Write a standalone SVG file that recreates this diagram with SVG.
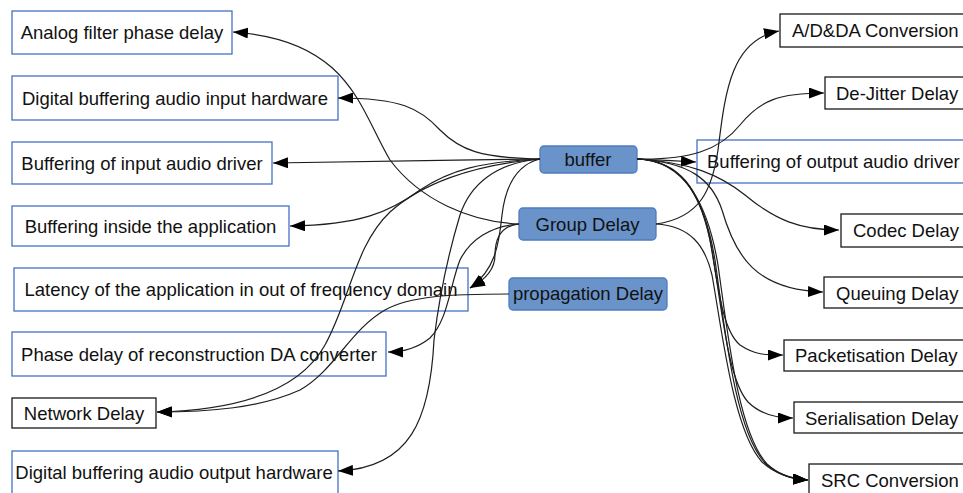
<svg xmlns="http://www.w3.org/2000/svg" width="963" height="493" viewBox="0 0 963 493">
<defs>
<style>
.lb{fill:#ffffff;stroke:#4472c4;stroke-width:1.3}
.bk{fill:#ffffff;stroke:#1a1a1a;stroke-width:1.3}
.hub{fill:#6a94c9;stroke:#4d7bbf;stroke-width:1.3}
text{font-family:"Liberation Sans",Arial,sans-serif;font-size:18.5px;fill:#111111}
.c{text-anchor:middle}
.e{fill:none;stroke:#1e1e1e;stroke-width:1.2;marker-end:url(#ah)}
.p{fill:none;stroke:#1e1e1e;stroke-width:1.2}
</style>
<marker id="ah" markerUnits="userSpaceOnUse" markerWidth="15" markerHeight="11" refX="15" refY="5.5" orient="auto" viewBox="0 0 15 11">
<path d="M0,0 L15,5.5 L0,11 z" fill="#000000"/>
</marker>
</defs>

<g id="n-analog"><rect class="lb" x="12" y="11" width="220" height="43"/><text class="c" x="122" y="39">Analog filter phase delay</text></g>
<g id="n-dig-in"><rect class="lb" x="12" y="76" width="326" height="44"/><text class="c" x="175" y="104.5">Digital buffering audio input hardware</text></g>
<g id="n-in-driver"><rect class="lb" x="12" y="142" width="260" height="42"/><text class="c" x="142" y="169.5">Buffering of input audio driver</text></g>
<g id="n-inside-app"><rect class="lb" x="12" y="206" width="277" height="40"/><text class="c" x="150.5" y="232.5">Buffering inside the application</text></g>
<g id="n-latency"><rect class="lb" x="14" y="268" width="454" height="43"/><text class="c" x="241" y="296">Latency of the application in out of frequency domain</text></g>
<g id="n-phase"><rect class="lb" x="12" y="332" width="374" height="44"/><text class="c" x="199" y="360.5">Phase delay of reconstruction DA converter</text></g>
<g id="n-network"><rect class="bk" x="12" y="398" width="144" height="30"/><text class="c" x="84" y="419.5">Network Delay</text></g>
<g id="n-dig-out"><rect class="lb" x="12" y="451" width="326" height="46"/><text class="c" x="174" y="479">Digital buffering audio output hardware</text></g>

<g id="n-adda"><rect class="bk" x="780" y="14" width="195" height="33"/><text x="792" y="37">A/D&amp;DA Conversion</text></g>
<g id="n-dejitter"><rect class="bk" x="825" y="77" width="150" height="32"/><text x="836" y="100">De-Jitter Delay</text></g>
<g id="n-out-driver"><rect class="lb" x="697" y="140" width="280" height="43"/><text x="707" y="168">Buffering of output audio driver</text></g>
<g id="n-codec"><rect class="bk" x="841" y="214" width="135" height="33"/><text x="853" y="237">Codec Delay</text></g>
<g id="n-queuing"><rect class="bk" x="824" y="277" width="150" height="31"/><text x="836" y="299.5">Queuing Delay</text></g>
<g id="n-packet"><rect class="bk" x="784" y="340" width="190" height="31"/><text x="795" y="362">Packetisation Delay</text></g>
<g id="n-serial"><rect class="bk" x="794" y="402" width="180" height="31"/><text x="805" y="425">Serialisation Delay</text></g>
<g id="n-src"><rect class="bk" x="809" y="464" width="170" height="35"/><text x="821" y="487">SRC Conversion</text></g>

<g id="n-buffer"><rect class="hub" x="540" y="146" width="97" height="27" rx="4"/><text class="c" x="588" y="166">buffer</text></g>
<g id="n-group"><rect class="hub" x="519" y="208" width="137" height="32" rx="4"/><text class="c" x="587.5" y="230.5">Group Delay</text></g>
<g id="n-prop"><rect class="hub" x="509" y="278" width="158" height="32" rx="4"/><text class="c" x="588" y="300">propagation Delay</text></g>

<g id="connectors">
<path class="e" d="M519,224 C470,222 420,200 390,160 C360,110 350,40 233,32"/>
<path class="e" d="M540,159 C480,158 460,150 440,130 C420,108 400,98 338,98"/>
<path class="e" d="M540,159 C450,160 350,162 273,163"/>
<path class="e" d="M540,159 C480,162 450,170 420,190 C390,212 360,225 290,226"/>
<path class="e" d="M540,159 C470,165 420,185 390,212 C355,245 350,300 325,345 C300,390 240,410 157,412"/>
<path class="e" d="M509,294 C450,294 410,296 385,310 C350,330 335,370 300,390 C260,408 210,412 157,412"/>
<path class="e" d="M540,159 C515,165 505,190 502,215 C499,245 495,270 470,288"/>
<path class="e" d="M519,224 C500,226 495,240 495,255 C495,270 485,280 470,288"/>
<path class="e" d="M519,224 C490,226 470,240 460,260 C450,285 448,320 430,338 C415,350 400,352 388,352"/>
<path class="e" d="M540,159 C495,163 470,185 460,215 C448,255 440,290 434,340 C430,420 410,468 338,471"/>

<path class="e" d="M656,224 C700,218 712,190 718,150 C725,95 730,40 779,31"/>
<path class="e" d="M637,159 C690,160 720,150 740,125 C760,100 780,93 824,93"/>
<path class="e" d="M637,159 C660,160 675,161 696,162"/>
<path class="e" d="M637,159 C690,162 720,175 745,195 C775,220 800,230 839,230"/>
<path class="e" d="M637,159 C690,162 712,180 722,210 C735,255 755,290 823,292"/>
<path class="e" d="M637,159 C680,160 700,190 710,240 C718,285 722,330 740,345 C755,355 765,355 783,355"/>
<path class="e" d="M637,159 C682,160 702,195 712,250 C722,310 728,380 748,402 C760,414 775,418 793,418"/>
<path class="e" d="M637,159 C684,160 705,200 715,260 C725,330 735,430 765,463 C778,475 792,479 808,480"/>
<path class="e" d="M637,159 C686,161 708,205 718,265 C728,335 738,432 767,464 C780,476 792,479 808,480"/>
<path class="e" d="M656,224 C690,226 705,245 712,275 C722,330 733,430 762,462 C776,475 792,479 808,480"/>
</g>
</svg>
